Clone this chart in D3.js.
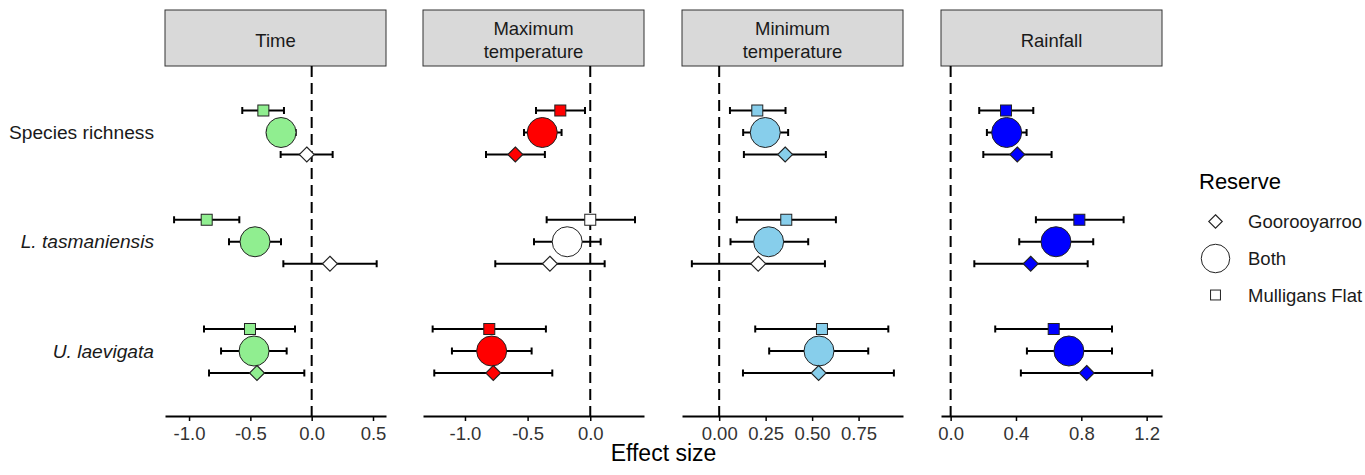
<!DOCTYPE html>
<html>
<head>
<meta charset="utf-8">
<script src="https://cdn.jsdelivr.net/npm/d3@7"></script>
<style>
  html, body { margin: 0; padding: 0; background: #fff; }
  svg { display: block; font-family: "Liberation Sans", Arial, sans-serif; }
</style>
</head>
<body>
<svg id="chart" width="1365" height="475"></svg>
<script>
// Facets (predictors), response rows and reserve groups
const predictors = ["Time", "Maximum temperature", "Minimum temperature", "Rainfall"];
const stripLines = [["Time"], ["Maximum", "temperature"], ["Minimum", "temperature"], ["Rainfall"]];
const responses = ["Species richness", "L. tasmaniensis", "U. laevigata"];
const responseItalic = [false, true, true];
const reserves = ["Mulligans Flat", "Both", "Goorooyarroo"];
const predictorColours = ["#90EE90", "#FF0000", "#87CEEB", "#0000FF"];

// Effect estimates: [response, reserve, estimate, lower CI, upper CI, significant]
const timeEffects = [
  [0, 0, -0.394, -0.566, -0.226, true],
  [0, 1, -0.250, -0.365, -0.130, true],
  [0, 2, -0.040, -0.253, 0.171, false],
  [1, 0, -0.856, -1.122, -0.590, true],
  [1, 1, -0.462, -0.674, -0.250, true],
  [1, 2, 0.149, -0.231, 0.530, false],
  [2, 0, -0.503, -0.878, -0.136, true],
  [2, 1, -0.470, -0.739, -0.204, true],
  [2, 2, -0.446, -0.837, -0.060, true]
];
const maxTempEffects = [
  [0, 0, -0.239, -0.433, -0.042, true],
  [0, 1, -0.383, -0.529, -0.229, true],
  [0, 2, -0.598, -0.832, -0.362, true],
  [1, 0, 0.000, -0.348, 0.357, false],
  [1, 1, -0.184, -0.449, 0.083, false],
  [1, 2, -0.322, -0.758, 0.115, false],
  [2, 0, -0.806, -1.258, -0.354, true],
  [2, 1, -0.787, -1.104, -0.468, true],
  [2, 2, -0.774, -1.245, -0.303, true]
];
const minTempEffects = [
  [0, 0, 0.205, 0.058, 0.357, true],
  [0, 1, 0.248, 0.129, 0.371, true],
  [0, 2, 0.355, 0.133, 0.574, true],
  [1, 0, 0.361, 0.095, 0.628, true],
  [1, 1, 0.266, 0.061, 0.479, true],
  [1, 2, 0.210, -0.147, 0.569, false],
  [2, 0, 0.553, 0.194, 0.910, true],
  [2, 1, 0.537, 0.269, 0.802, true],
  [2, 2, 0.535, 0.128, 0.940, true]
];
const rainfallEffects = [
  [0, 0, 0.339, 0.175, 0.506, true],
  [0, 1, 0.343, 0.222, 0.465, true],
  [0, 2, 0.408, 0.200, 0.618, true],
  [1, 0, 0.788, 0.522, 1.059, true],
  [1, 1, 0.645, 0.420, 0.873, true],
  [1, 2, 0.490, 0.145, 0.839, true],
  [2, 0, 0.631, 0.273, 0.988, true],
  [2, 1, 0.724, 0.467, 0.988, true],
  [2, 2, 0.833, 0.430, 1.234, true]
];
const panelEffects = [timeEffects, maxTempEffects, minTempEffects, rainfallEffects];

// Axis limits and tick labels for each facet
const xLimits = [[-1.196, 0.606], [-1.335, 0.429], [-0.2, 0.989], [-0.059, 1.294]];
const tickValues = [[-1.0, -0.5, 0.0, 0.5], [-1.0, -0.5, 0.0], [0.0, 0.25, 0.5, 0.75], [0.0, 0.4, 0.8, 1.2]];
const tickFormats = [".1f", ".1f", ".2f", ".1f"];

// ---- layout ----
const svg = d3.select("#chart");
const panelLeft = [165, 423, 682, 941];
const panelWidth = 221;
const stripTop = 10, stripBottom = 66;
const axisY = 416;

const locale = d3.formatLocale({ decimal: ".", thousands: ",", grouping: [3], currency: ["", ""], minus: "-" });

const y = d3.scalePoint().domain(d3.range(responses.length)).range([132.5, 351]);
const offset = d3.scalePoint().domain(d3.range(reserves.length)).range([-22, 22]);

const circleR = 15;
const squareSide = 11;
const diamondHalf = 7.5;

function drawMarker(g, reserve, cx, cy, fill, scale = 1) {
  if (reserve === 1) {
    g.append("circle").attr("cx", cx).attr("cy", cy).attr("r", circleR * scale)
      .attr("fill", fill).attr("stroke", "#222").attr("stroke-width", 1);
  } else if (reserve === 0) {
    const s = squareSide * scale;
    g.append("rect").attr("x", cx - s / 2).attr("y", cy - s / 2).attr("width", s).attr("height", s)
      .attr("fill", fill).attr("stroke", "#222").attr("stroke-width", 1);
  } else {
    const h = diamondHalf * scale;
    g.append("path").attr("d", `M${cx},${cy - h}L${cx + h},${cy}L${cx},${cy + h}L${cx - h},${cy}Z`)
      .attr("fill", fill).attr("stroke", "#222").attr("stroke-width", 1.1);
  }
}

predictors.forEach((pred, p) => {
  const left = panelLeft[p];
  const x = d3.scaleLinear().domain(xLimits[p]).range([left, left + panelWidth]);
  const g = svg.append("g");

  // strip header
  g.append("rect").attr("x", left).attr("y", stripTop).attr("width", panelWidth)
    .attr("height", stripBottom - stripTop).attr("fill", "#d9d9d9").attr("stroke", "#333").attr("stroke-width", 1);
  const lines = stripLines[p];
  const mid = (stripTop + stripBottom) / 2;
  lines.forEach((t, i) => {
    g.append("text").attr("x", left + panelWidth / 2)
      .attr("y", mid + 8.5 + (i - (lines.length - 1) / 2) * 23)
      .attr("text-anchor", "middle").attr("font-size", 18.5).attr("fill", "#1a1a1a").text(t);
  });

  // zero reference line
  g.append("line").attr("x1", x(0)).attr("x2", x(0)).attr("y1", stripBottom).attr("y2", axisY)
    .attr("stroke", "#000").attr("stroke-width", 2).attr("stroke-dasharray", "11,6");

  // x axis
  const axis = d3.axisBottom(x).tickValues(tickValues[p]).tickFormat(locale.format(tickFormats[p]))
    .tickSize(5).tickSizeOuter(0).tickPadding(6);
  const ag = g.append("g").attr("transform", `translate(0,${axisY})`).call(axis);
  ag.select(".domain").attr("stroke", "#000").attr("stroke-width", 2);
  ag.selectAll(".tick line").attr("stroke", "#000").attr("stroke-width", 1.5);
  ag.selectAll(".tick text").attr("font-size", 18.5).attr("fill", "#333")
    .attr("font-family", "Liberation Sans, Arial, sans-serif");

  // error bars + markers
  const colour = predictorColours[p];
  panelEffects[p].forEach(([r, s, est, lo, hi, sig]) => {
    const cy = y(r) + offset(s);
    g.append("line").attr("x1", x(lo)).attr("x2", x(hi)).attr("y1", cy).attr("y2", cy)
      .attr("stroke", "#000").attr("stroke-width", 2);
    [lo, hi].forEach(v => {
      g.append("line").attr("x1", x(v)).attr("x2", x(v)).attr("y1", cy - 3.5).attr("y2", cy + 3.5)
        .attr("stroke", "#000").attr("stroke-width", 2);
    });
    drawMarker(g, s, x(est), cy, sig ? colour : "#fff");
  });
});

// response labels
responses.forEach((name, i) => {
  svg.append("text").attr("x", 154).attr("y", y(i) + 6.5).attr("text-anchor", "end")
    .attr("font-size", 19.2).attr("fill", "#1a1a1a")
    .attr("font-style", responseItalic[i] ? "italic" : "normal").text(name);
});

// x-axis title
svg.append("text").attr("x", (panelLeft[0] + panelLeft[3] + panelWidth) / 2).attr("y", 461)
  .attr("text-anchor", "middle").attr("font-size", 23).attr("fill", "#000").text("Effect size");

// legend
const legend = svg.append("g");
legend.append("text").attr("x", 1199).attr("y", 189).attr("font-size", 22).attr("fill", "#000").text("Reserve");
const legendOrder = [2, 1, 0];
const legendY = [221.5, 258.5, 295];
legendOrder.forEach((s, i) => {
  drawMarker(legend, s, 1215.5, legendY[i], "#fff", s === 1 ? 0.95 : 0.9);
  legend.append("text").attr("x", 1248).attr("y", legendY[i] + 6.5).attr("font-size", 18.5)
    .attr("fill", "#1a1a1a").text(reserves[s]);
});
</script>
</body>
</html>
